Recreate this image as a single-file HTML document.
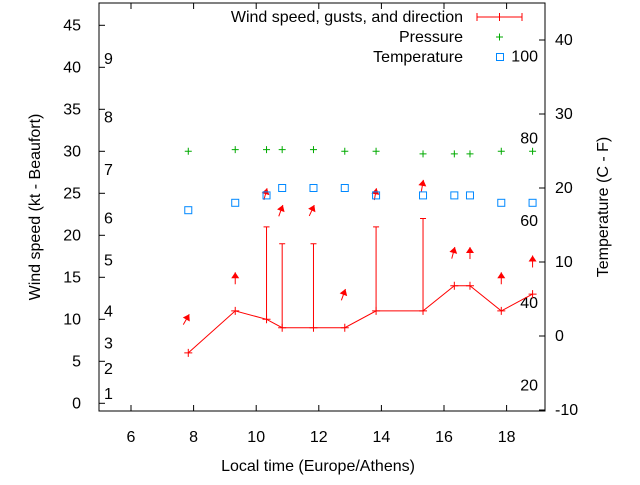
<!DOCTYPE html>
<html><head><meta charset="utf-8"><style>
html,body{margin:0;padding:0;background:#fff;}
svg text{font-family:"Liberation Sans",sans-serif;font-size:16px;fill:#000;}
</style></head><body>
<svg id="chart" width="640" height="480" viewBox="0 0 640 480" xmlns="http://www.w3.org/2000/svg">
<rect x="0" y="0" width="640" height="480" fill="#fff"/>
<g id="axes"></g>
<g id="marks"></g>
<text transform="translate(40,207) rotate(-90)" text-anchor="middle">Wind speed (kt - Beaufort)</text>
<text transform="translate(608,207) rotate(-90)" text-anchor="middle">Temperature (C - F)</text>
<text x="318" y="471" text-anchor="middle">Local time (Europe/Athens)</text>
<g>
<text x="463" y="22" text-anchor="end">Wind speed, gusts, and direction</text>
<line x1="477" y1="17" x2="522" y2="17" stroke="#f00"/>
<line x1="477" y1="13" x2="477" y2="21" stroke="#f00"/>
<line x1="522" y1="13" x2="522" y2="21" stroke="#f00"/>
<line x1="499.5" y1="13" x2="499.5" y2="21" stroke="#f00"/>
<text x="463" y="42" text-anchor="end">Pressure</text>
<path d="M496 37h7M499.5 33.5v7" stroke="#0a0" fill="none"/>
<text x="463" y="62" text-anchor="end">Temperature</text>
<rect x="496.5" y="53.5" width="7" height="7" fill="none" stroke="#08f"/>
</g>
</svg>
<script>
const times=[7.83,9.33,10.33,10.83,11.83,12.83,13.83,15.33,16.33,16.83,17.83,18.83];
const wind=[6,11,10,9,9,9,11,11,14,14,11,13];
const gusts=[null,null,21,19,19,null,21,22,null,null,null,null];
const windDir=[30,0,15,20,25,20,10,10,15,0,0,0];
const pressure=[30,30.2,30.2,30.2,30.2,30,30,29.7,29.7,29.7,30,30];
const temperature=[17,18,19,20,20,20,19,19,19,19,18,18];
const xTicks=[6,8,10,12,14,16,18];
const yTicks=[0,5,10,15,20,25,30,35,40,45];
const y2Ticks=[-10,0,10,20,30,40];
const beaufort=[[1,1.1],[2,4.1],[3,7.1],[4,10.9],[5,17],[6,22],[7,27.8],[8,34],[9,41]];
const fahrenheit=[20,40,60,80,100];

const NS="http://www.w3.org/2000/svg";
const L=99,R=545,T=3,B=411;
const X=t=>131+(t-6)*31.3;
const Y=v=>403.3-v*8.4;
const Y2=c=>336-c*7.4;
const YF=f=>Y2((f-32)*5/9);
function mk(tag,attrs,parent,txt){const e=document.createElementNS(NS,tag);for(const k in attrs)e.setAttribute(k,attrs[k]);if(txt!==undefined)e.textContent=txt;parent.appendChild(e);return e;}
const ax=document.getElementById('axes'),mg=document.getElementById('marks');

let f=mk('rect',{x:L,y:T,width:R-L,height:B-T,fill:'none',stroke:'#000'},ax);


xTicks.forEach(t=>{
 mk('line',{x1:X(t),y1:B,x2:X(t),y2:B-6,stroke:'#000'},ax);
 mk('line',{x1:X(t),y1:T,x2:X(t),y2:T+6,stroke:'#000'},ax);
 const e=mk('text',{x:X(t),y:442,'text-anchor':'middle'},ax,t);
 
 
});
yTicks.forEach(v=>{
 mk('line',{x1:L,y1:Y(v),x2:L+6,y2:Y(v),stroke:'#000'},ax);
 const e=mk('text',{x:81,y:Y(v)+5,'text-anchor':'end'},ax,v);
 
 
});
y2Ticks.forEach(v=>{
 mk('line',{x1:R,y1:Y2(v),x2:R-6,y2:Y2(v),stroke:'#000'},ax);
 const e=mk('text',{x:555,y:Y2(v)+5,'text-anchor':'start'},ax,v);
 
 
});
beaufort.forEach(b=>{
 const e=mk('text',{x:104,y:Y(b[1])+5},ax,b[0]);
 
 
});
fahrenheit.forEach(v=>{
 const e=mk('text',{x:538,y:YF(v)+5,'text-anchor':'end'},ax,v);
 
 
});

const pl=mk('polyline',{points:times.map((t,i)=>X(t)+','+Y(wind[i])).join(' '),fill:'none',stroke:'#f00'},mg);


times.forEach((t,i)=>{
 const x=X(t),y=Y(wind[i]);
 const p=mk('path',{d:`M${x-4} ${y}h8M${x} ${y-4}v8`,stroke:'#f00',fill:'none'},mg);
 
 
 if(gusts[i]!==null){
  const g=mk('path',{d:`M${x} ${y}V${Y(gusts[i])}M${x-3} ${Y(gusts[i])}h6`,stroke:'#f00',fill:'none'},mg);
  
  
 }
 const top=Math.max(wind[i],gusts[i]||0);
 const a=windDir[i]*Math.PI/180;
 const tx=x+4*Math.sin(a)*0.5, ty=Y(top+4.6);
 const bx=tx-12*Math.sin(a), by=ty+12*Math.cos(a);
 const hx=Math.sin(a),hy=-Math.cos(a);
 const px=-hy,py=hx;
 const ar=mk('g',{},mg);
 
 
 mk('line',{x1:bx,y1:by,x2:tx,y2:ty,stroke:'#f00'},ar);
 mk('polygon',{points:`${tx},${ty} ${tx-hx*6+px*4},${ty-hy*6+py*4} ${tx-hx*6-px*4},${ty-hy*6-py*4}`,fill:'#f00'},ar);
 const px2=X(t),py2=Y(pressure[i]);
 const pp=mk('path',{d:`M${px2-3.5} ${py2}h7M${px2} ${py2-3.5}v7`,stroke:'#0a0',fill:'none'},mg);
 
 
 const ty2=Y2(temperature[i]);
 const sq=mk('rect',{x:x-3.5,y:ty2-3.5,width:7,height:7,fill:'none',stroke:'#08f'},mg);
 
 
});
</script>
</body></html>
